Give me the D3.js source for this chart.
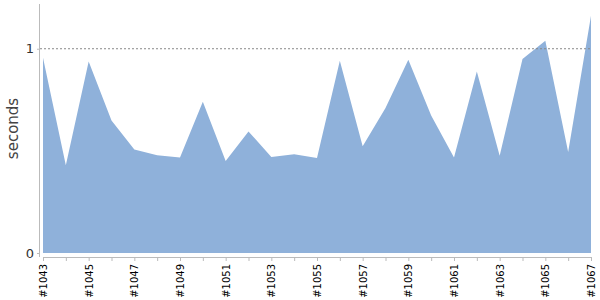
<!DOCTYPE html>
<html>
<head>
<meta charset="utf-8">
<script src="https://d3js.org/d3.v7.min.js"></script>
<style>
  body { margin: 0; background: #fff; }
</style>
</head>
<body>
<div id="chart"></div>
<script>
// build numbers and durations (seconds)
var builds = ["#1043","#1044","#1045","#1046","#1047","#1048","#1049","#1050","#1051","#1052","#1053","#1054","#1055","#1056","#1057","#1058","#1059","#1060","#1061","#1062","#1063","#1064","#1065","#1066","#1067"];
var durations = [0.956,0.429,0.937,0.649,0.507,0.478,0.468,0.741,0.45,0.595,0.47,0.483,0.465,0.941,0.523,0.71,0.946,0.673,0.467,0.889,0.476,0.95,1.039,0.494,1.161];
var yTicks = [0, 1];

var font = "DejaVu Sans, sans-serif";

var margin = {top: 4, right: 9, bottom: 47, left: 43},
    width = 600 - margin.left - margin.right,
    height = 300 - margin.top - margin.bottom;

var svg = d3.select("#chart").append("svg")
    .attr("width", 600)
    .attr("height", 300)
    .attr("font-family", font)
  .append("g")
    .attr("transform", "translate(" + margin.left + "," + margin.top + ")");

var x = d3.scalePoint().domain(builds).range([0, width]);
var y = d3.scaleLinear().domain([0, d3.max(durations) * 1.05]).range([height, 0]);

var area = d3.area()
    .x(function(d, i) { return x(builds[i]); })
    .y0(y(0))
    .y1(function(d) { return y(d); });

svg.append("path")
    .datum(durations)
    .attr("d", area)
    .style("fill", "#8fb1da");

// dashed reference line at 1s
svg.append("line")
    .attr("x1", -3).attr("x2", width)
    .attr("y1", y(1)).attr("y2", y(1))
    .style("stroke", "#888")
    .style("stroke-dasharray", "2,2")
    .style("stroke-width", 1);

// y axis
var yAxis = svg.append("g")
    .call(d3.axisLeft(y).tickValues(yTicks).tickFormat(d3.format("d")).tickSize(3).tickSizeOuter(0))
    .attr("font-family", font);
yAxis.select(".domain").style("stroke", "#bbb").attr("d", "M-3.5,0V" + (height + 4));
yAxis.selectAll(".tick line").style("stroke", "#bbb").attr("x1", -3).attr("x2", 0).attr("transform", "translate(-3,0)");
yAxis.selectAll(".tick text").style("font-size", "13px").style("fill", "#333").attr("x", -9);

// x axis
var xAxis = svg.append("g")
    .attr("transform", "translate(0," + (height + 4) + ")")
    .call(d3.axisBottom(x).tickSize(4).tickSizeOuter(0)
      .tickFormat(function(d, i) { return i % 2 === 0 ? d : ""; }))
    .attr("font-family", font);
xAxis.select(".domain").style("stroke", "#bbb");
xAxis.selectAll(".tick line").style("stroke", "#bbb");
xAxis.selectAll(".tick text")
    .style("font-size", "10px")
    .style("fill", "#000")
    .attr("transform", "rotate(-90)")
    .attr("text-anchor", "end")
    .attr("x", -7)
    .attr("y", 0)
    .attr("dy", ".35em");

svg.append("text")
    .attr("transform", "rotate(-90)")
    .attr("x", -height / 2)
    .attr("y", -25)
    .attr("text-anchor", "middle")
    .style("font-size", "15px")
    .style("fill", "#444")
    .text("seconds");
</script>
</body>
</html>
